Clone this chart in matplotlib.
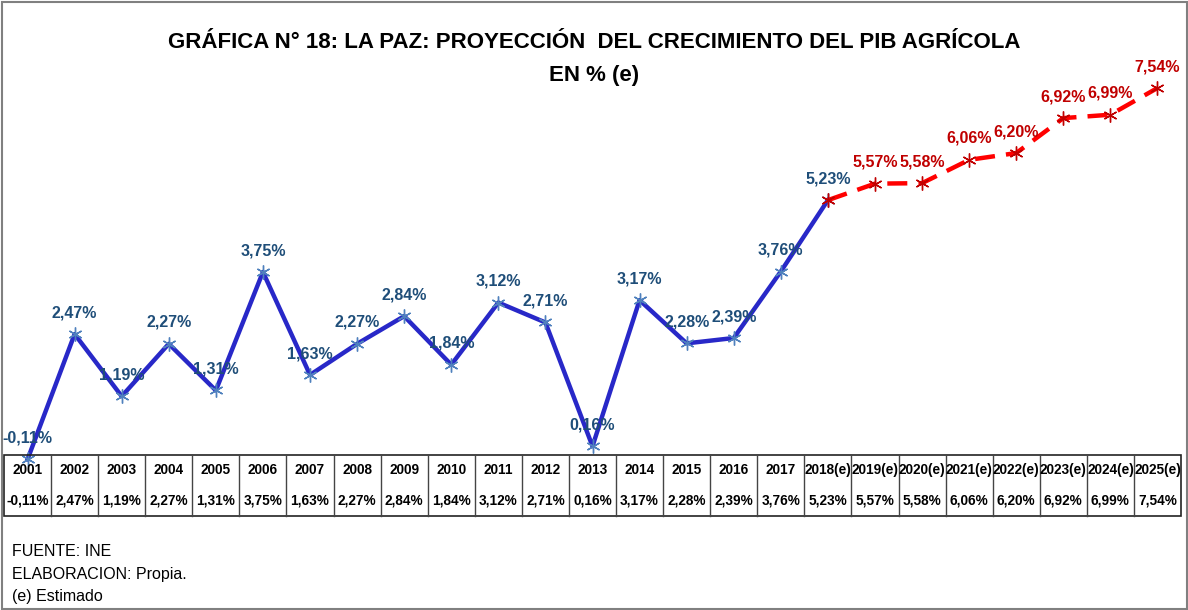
import matplotlib.pyplot as plt
from matplotlib.patches import Rectangle
from matplotlib import font_manager

anios = ['2001', '2002', '2003', '2004', '2005', '2006', '2007', '2008', '2009',
         '2010', '2011', '2012', '2013', '2014', '2015', '2016', '2017',
         '2018(e)', '2019(e)', '2020(e)', '2021(e)', '2022(e)', '2023(e)',
         '2024(e)', '2025(e)']
historico = [-0.11, 2.47, 1.19, 2.27, 1.31, 3.75, 1.63, 2.27, 2.84, 1.84,
             3.12, 2.71, 0.16, 3.17, 2.28, 2.39, 3.76, 5.23]
proyeccion = [5.23, 5.57, 5.58, 6.06, 6.20, 6.92, 6.99, 7.54]
valores = historico + proyeccion[1:]

nombres = {f.name for f in font_manager.fontManager.ttflist}
fuente = 'Liberation Sans Narrow' if 'Liberation Sans Narrow' in nombres else 'Liberation Sans'
plt.rcParams['font.family'] = [fuente, 'DejaVu Sans']

def pct(v):
    return f'{v:.2f}%'.replace('.', ',')

W, H = 1188, 610
fig = plt.figure(figsize=(W / 100, H / 100), dpi=100)

x0, x1 = 4, 1181
ax = fig.add_axes([x0 / W, 1 - 455 / H, (x1 - x0) / W, 450 / H])
ax.set_xlim(-0.5, len(anios) - 0.5)
ax.set_ylim(-0.02, 9.25)
ax.axis('off')

xh = list(range(len(historico)))
xp = list(range(len(historico) - 1, len(anios)))
marca = (6, 2, 0)
ax.plot(xh, historico, color='#2828C8', lw=3.2, marker=marca, ms=10,
        mec='#4F81BD', mew=1.0, clip_on=False, zorder=3)
ax.plot(xp, proyeccion, color='#FF0000', lw=3.2, ls=(0, (4.5, 2.5)), marker=marca,
        ms=10, mec='#C00000', mew=1.0, clip_on=False, zorder=3)

for i, v in enumerate(valores):
    col = '#1F4E79' if i < len(historico) else '#C00000'
    ax.annotate(pct(v), (i, v), xytext=(0, 10), textcoords='offset points',
                ha='center', va='bottom', fontsize=11.5, fontweight='bold',
                color=col, zorder=4, annotation_clip=False)

# tabla de datos
tb = fig.add_axes([x0 / W, 1 - 516 / H, (x1 - x0) / W, 61 / H])
tb.set_xlim(-0.5, len(anios) - 0.5)
tb.set_ylim(0, 2)
tb.axis('off')
tb.add_patch(Rectangle((-0.5, 0), len(anios), 2, fill=False, ec='#222222', lw=1.2,
                       clip_on=False))
for i in range(1, len(anios)):
    tb.plot([i - 0.5, i - 0.5], [0, 2], color='#444444', lw=1, clip_on=False)
for i, (a, v) in enumerate(zip(anios, valores)):
    tb.text(i, 1.5, a, ha='center', va='center', fontsize=9.8, fontweight='bold')
    tb.text(i, 0.5, pct(v), ha='center', va='center', fontsize=9.8, fontweight='bold')

fig.text(0.5, 1 - 42 / H, 'GRÁFICA N° 18: LA PAZ: PROYECCIÓN  DEL CRECIMIENTO DEL PIB AGRÍCOLA',
         ha='center', va='center', fontsize=16, fontweight='bold')
fig.text(0.5, 1 - 75 / H, 'EN % (e)', ha='center', va='center', fontsize=16,
         fontweight='bold')

for yy, t in [(552, 'FUENTE: INE'), (575, 'ELABORACION: Propia.'), (597, '(e) Estimado')]:
    fig.text(12 / W, 1 - yy / H, t, ha='left', va='center', fontsize=11.5)

fig.patches.append(Rectangle((1.5 / W, 1.5 / H), 1 - 3 / W, 1 - 3 / H,
                             transform=fig.transFigure, fill=False, ec='#808080', lw=1.5))

fig.savefig('out.png', dpi=100)
